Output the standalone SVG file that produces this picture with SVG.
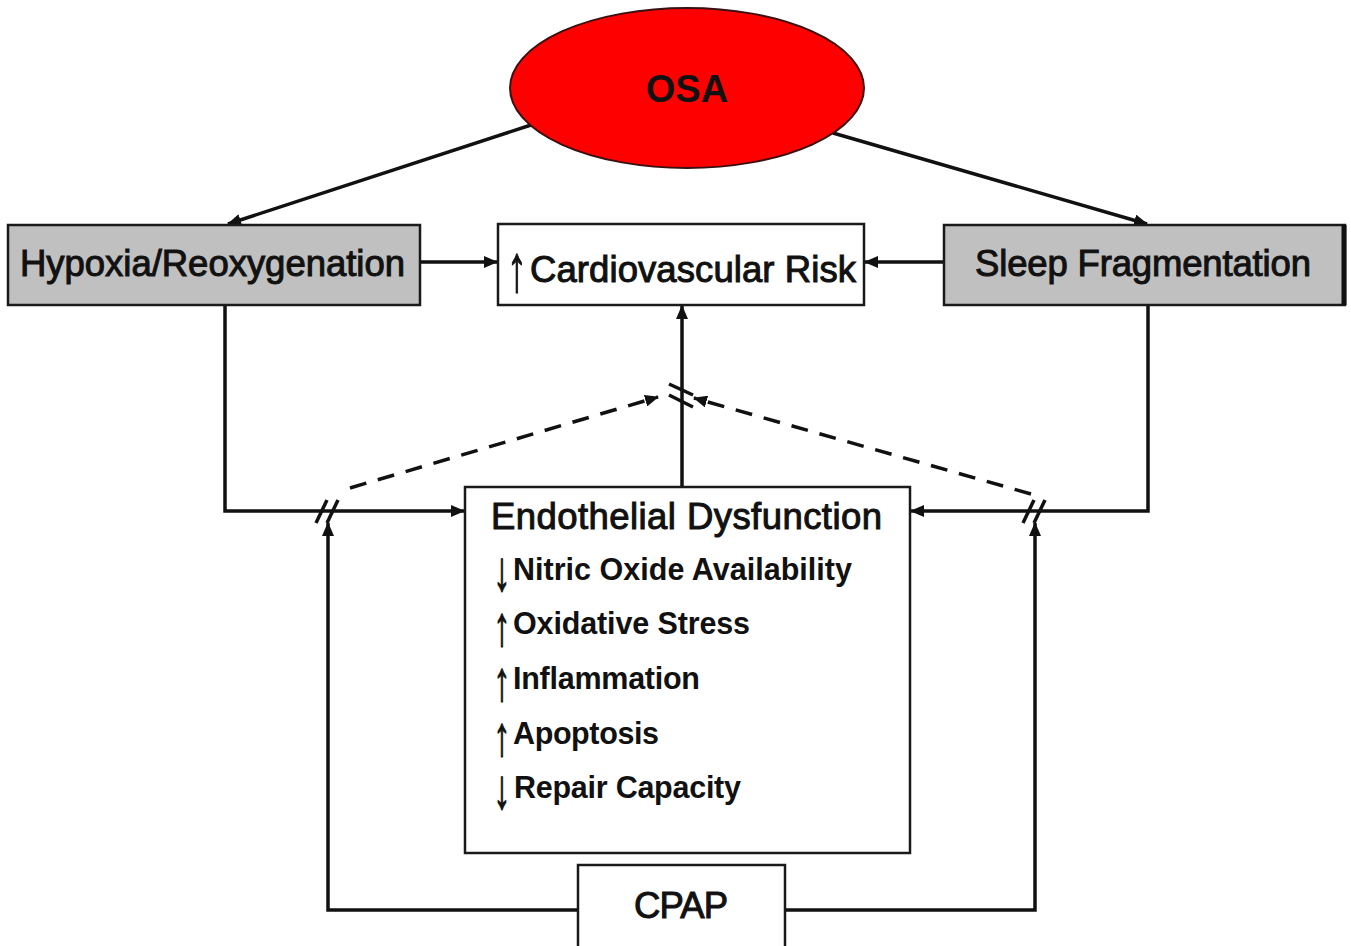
<svg xmlns="http://www.w3.org/2000/svg" width="1351" height="946" viewBox="0 0 1351 946">
<defs>
<style>
.box{fill:#fff;stroke:#1a1a1a;stroke-width:2.5}
.gray{fill:#c0c0c0;stroke:#1a1a1a;stroke-width:2.5}
.h{font-family:"Liberation Sans",Arial,sans-serif;font-size:36.5px;fill:#111;stroke:#111;stroke-width:1}
.b{font-family:"Liberation Sans",Arial,sans-serif;font-size:30.5px;font-weight:bold;fill:#111}
.ar{font-family:"Liberation Sans",Arial,sans-serif;fill:#111;stroke:#111;stroke-width:1.2;text-anchor:middle}
.c{fill:none;stroke:#111;stroke-width:3.5}
.d{fill:none;stroke:#111;stroke-width:3.5;stroke-dasharray:17 12}
.m{fill:none;stroke:#111;stroke-width:3.5}
</style>
<marker id="ah" markerUnits="userSpaceOnUse" markerWidth="14" markerHeight="12" refX="13" refY="6" orient="auto">
<path d="M0,0 L14,6 L0,12 z" fill="#111"/>
</marker>
</defs>
<rect width="1351" height="946" fill="#fff"/>
<g id="connectors">
<line class="c" x1="531" y1="125" x2="228" y2="224" marker-end="url(#ah)"/>
<line class="c" x1="833" y1="133" x2="1147" y2="224" marker-end="url(#ah)"/>
<line class="c" x1="420" y1="262" x2="497" y2="262" marker-end="url(#ah)"/>
<line class="c" x1="944" y1="262" x2="865" y2="262" marker-end="url(#ah)"/>
<path class="c" d="M225,305 V511 H464" marker-end="url(#ah)"/>
<path class="c" d="M1148,305 V511 H911" marker-end="url(#ah)"/>
<path class="c" d="M682,487 V306" marker-end="url(#ah)"/>
<path class="c" d="M578,910 H328 V523" marker-end="url(#ah)"/>
<path class="c" d="M785,910 H1035 V523" marker-end="url(#ah)"/>
<path class="d" d="M350,488 L658,397" marker-end="url(#ah)"/>
<path class="d" d="M1031,494 L694,398" marker-end="url(#ah)"/>
<line class="m" x1="316" y1="523" x2="327" y2="500"/>
<line class="m" x1="327" y1="523" x2="338" y2="500"/>
<line class="m" x1="1023" y1="523" x2="1034" y2="500"/>
<line class="m" x1="1034" y1="523" x2="1045" y2="500"/>
<line class="m" x1="669" y1="384" x2="693" y2="395"/>
<line class="m" x1="669" y1="395" x2="693" y2="407"/>
</g>
<g id="osa">
<ellipse cx="687" cy="88" rx="177" ry="80" fill="#ff0000" stroke="#3a1010" stroke-width="2"/>
<text x="687" y="102" text-anchor="middle" font-family="Liberation Sans, Arial, sans-serif" font-size="38" font-weight="bold" fill="#111">OSA</text>
</g>
<g id="hypoxia">
<rect class="gray" x="8" y="225" width="412" height="80"/>
<text class="h" x="20" y="276" textLength="385">Hypoxia/Reoxygenation</text>
</g>
<g id="cvrisk">
<rect class="box" x="498" y="224" width="366" height="81"/>
<text class="ar" font-size="66" transform="translate(517,291) scale(0.6,1)">↑</text>
<text class="h" x="530" y="282" textLength="326">Cardiovascular Risk</text>
</g>
<g id="sleep">
<rect class="gray" x="944" y="225" width="401" height="80"/>
<line x1="1344" y1="225" x2="1344" y2="305" stroke="#111" stroke-width="5"/>
<text class="h" x="975" y="276" textLength="336">Sleep Fragmentation</text>
</g>
<g id="endothelial">
<rect class="box" x="465" y="487" width="445" height="366"/>
<text class="h" x="491" y="529" textLength="391">Endothelial Dysfunction</text>
<text class="ar" font-size="56" transform="translate(502,590) scale(0.6,1)">↓</text>
<text class="b" x="513" y="580" textLength="339">Nitric Oxide Availability</text>
<text class="ar" font-size="56" transform="translate(502,645) scale(0.6,1)">↑</text>
<text class="b" x="513" y="634" textLength="237">Oxidative Stress</text>
<text class="ar" font-size="56" transform="translate(502,700) scale(0.6,1)">↑</text>
<text class="b" x="513" y="689" textLength="187">Inflammation</text>
<text class="ar" font-size="56" transform="translate(502,755) scale(0.6,1)">↑</text>
<text class="b" x="513" y="744" textLength="146">Apoptosis</text>
<text class="ar" font-size="56" transform="translate(502,808) scale(0.6,1)">↓</text>
<text class="b" x="514" y="798" textLength="227">Repair Capacity</text>
</g>
<g id="cpap">
<rect class="box" x="578" y="865" width="207" height="84"/>
<text class="h" x="681" y="918" text-anchor="middle" textLength="94">CPAP</text>
</g>
</svg>
